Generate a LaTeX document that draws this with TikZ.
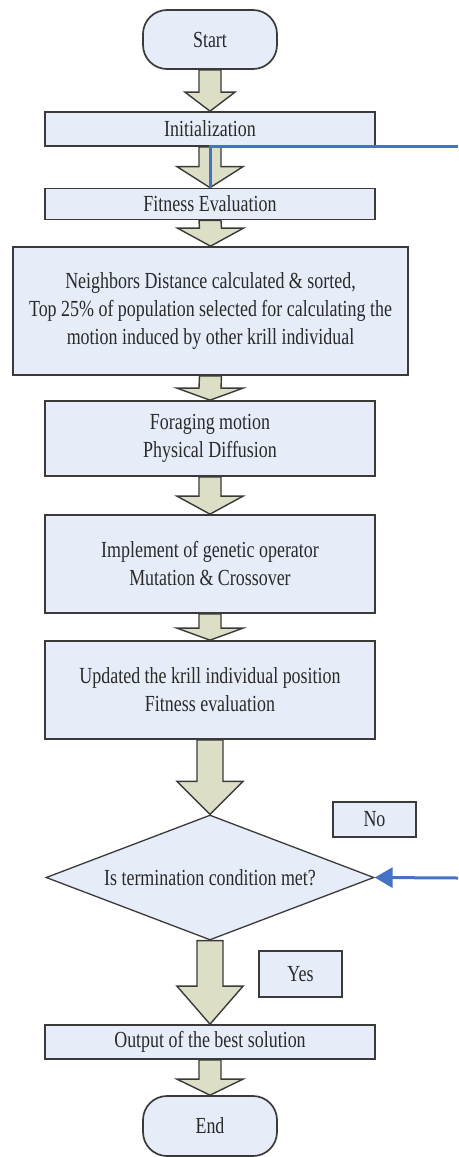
\documentclass[tikz,border=0pt]{standalone}
\usepackage{fontspec}
\setmainfont{Liberation Serif}[FakeStretch=0.78]
\usetikzlibrary{shapes.geometric,calc,arrows.meta}
\definecolor{boxfill}{HTML}{E6ECF8}
\definecolor{arrfill}{HTML}{DCDFC6}
\definecolor{edgecol}{HTML}{3A3A3A}
\definecolor{loopblue}{HTML}{4472C4}
\definecolor{txt}{HTML}{2A2A2A}
\newcommand{\blockarr}[5]{%
 \draw[barrow] ($(#1.south)+(-#3,0)$) -- ($(#2.north)+(-#3,-#5)$) -- ($(#2.north)+(-#4,-#5)$) -- (#2.north) -- ($(#2.north)+(#4,-#5)$) -- ($(#2.north)+(#3,-#5)$) -- ($(#1.south)+(#3,0)$) -- cycle;}
\tikzset{
 box/.style={draw=edgecol, line width=1.7pt, fill=boxfill, text=txt,
   font=\fontsize{23}{28}\selectfont, align=center, inner sep=0pt},
 term/.style={box, rounded corners=24pt},
 decision/.style={box, diamond, aspect=2.6, line width=1.3pt},
 barrow/.style={draw=edgecol, line width=1.4pt, fill=arrfill, line join=miter},
 loopline/.style={draw=loopblue, line width=3pt}
}
\begin{document}
\begin{tikzpicture}[x=1pt,y=-1pt]
\useasboundingbox (0,0) rectangle (458,1157);
\node[term, minimum width=134pt, minimum height=59pt] (start) at (210,39.5) {Start};
\node[box, minimum width=330pt, minimum height=34pt] (init) at (210,129) {Initialization};
\node[box, minimum width=330pt, minimum height=31pt] (fit) at (210,204) {Fitness Evaluation};
\node[box, minimum width=395pt, minimum height=128pt] (nb) at (210.5,311) {Neighbors Distance calculated \& sorted,\\Top 25\% of population selected for calculating the\\motion induced by other krill individual};
\node[box, minimum width=330pt, minimum height=75pt] (forage) at (210,438.5) {Foraging motion\\Physical Diffusion};
\node[box, minimum width=330pt, minimum height=98pt] (impl) at (210,564) {Implement of genetic operator\\Mutation \& Crossover};
\node[box, minimum width=330pt, minimum height=98pt] (upd) at (210,690) {Updated the krill individual position\\Fitness evaluation};
\node[decision, minimum width=328pt, minimum height=125pt] (dia) at (210,877.5) {Is termination condition met?};
\node[box, minimum width=83pt, minimum height=35pt] (no) at (374.5,819.5) {No};
\node[box, minimum width=83pt, minimum height=46pt] (yes) at (300.5,974) {Yes};
\node[box, minimum width=330pt, minimum height=34pt] (out) at (210,1042) {Output of the best solution};
\node[term, minimum width=134pt, minimum height=60pt] (end) at (210,1126) {End};
\blockarr{start}{init}{11}{25}{19}
\blockarr{init}{fit}{11}{33}{21}
\blockarr{fit}{nb}{11}{33}{18}
\blockarr{nb}{forage}{11}{33}{12}
\blockarr{forage}{impl}{11}{33}{18}
\blockarr{impl}{upd}{11}{33}{12}
\blockarr{upd}{dia}{13}{33}{33}
\blockarr{dia}{out}{13}{33}{38}
\blockarr{out}{end}{11}{33}{16}
\coordinate (lt) at (458,146);
\coordinate (lb) at (458,878);
\draw[loopline] (lt) -| (fit.north);
\draw[loopline, -{Triangle[length=18pt,width=20pt]}] (lb) -- (dia.east);
\end{tikzpicture}
\end{document}
